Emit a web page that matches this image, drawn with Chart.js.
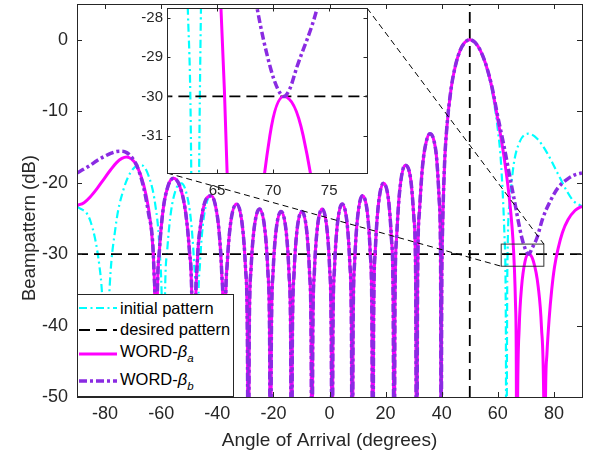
<!DOCTYPE html>
<html><head><meta charset="utf-8">
<script src="https://cdn.jsdelivr.net/npm/chart.js@4/dist/chart.umd.min.js"></script>
<style>
html,body{margin:0;padding:0;background:#fff;}
#wrap{position:relative;width:594px;height:460px;font-family:'Liberation Sans',Arial,Helvetica,sans-serif;color:#262626;}
#main{position:absolute;left:0;top:0;}
#inset{position:absolute;left:120px;top:0;}
#ytitle{position:absolute;left:28.6px;top:227.5px;transform:translate(-50%,-50%) rotate(-90deg);white-space:nowrap;font-size:18.5px;line-height:20px;}
#legend{position:absolute;left:77px;top:294px;width:155px;height:101px;border:1px solid #262626;background:#fff;font-size:16.5px;color:#000;}
#legend .row{position:absolute;left:0;height:20px;display:flex;align-items:center;white-space:nowrap;}
#legend svg{margin-left:1px;margin-right:3px;}
#legend .sub{font-size:11.5px;font-style:italic;position:relative;top:5px;line-height:0;}
#legend .shift{position:relative;top:-2px;}
</style></head>
<body><div id="wrap">
<canvas id="main" width="594" height="460"></canvas>
<canvas id="inset" width="260" height="200"></canvas>
<div id="ytitle">Beampattern (dB)</div>
<div id="legend">
 <div class="row" style="top:3px"><svg width="38" height="8"><line x1="0" y1="4" x2="38" y2="4" stroke="#00FFFF" stroke-width="2.2" stroke-dasharray="8 3.5 2 3.5"/></svg><span>initial pattern</span></div>
 <div class="row" style="top:24.5px"><svg width="38" height="8"><line x1="0" y1="4" x2="38" y2="4" stroke="#000" stroke-width="1.8" stroke-dasharray="11 6"/></svg><span>desired pattern</span></div>
 <div class="row" style="top:48.5px"><svg width="38" height="8"><line x1="0" y1="4" x2="38" y2="4" stroke="#FF00FF" stroke-width="3"/></svg><span class="shift">WORD-<i>β</i><span class="sub">a</span></span></div>
 <div class="row" style="top:76px"><svg width="38" height="8"><line x1="0" y1="4" x2="38" y2="4" stroke="#8A2BE2" stroke-width="3.5" stroke-dasharray="8 3 3 3"/></svg><span class="shift">WORD-<i>β</i><span class="sub">b</span></span></div>
</div>
</div>
<script>
// ---------------- data ----------------
const xTicks = [-80, -60, -40, -20, 0, 20, 40, 60, 80];
const yTicks = [-50, -40, -30, -20, -10, 0];
const insetXTicks = [65, 70, 75];
const insetYTicks = [-31, -30, -29, -28];
const xRange = [-90, 90];
const yRange = [-50, 5];
const insetXRange = [60.54, 78.37];
const insetYRange = [-31.95, -27.75];
const zoomBoxX = [61.2, 76.4];
const zoomBoxY = [-31.7, -28.6];

const desiredSpan = [-90, 90];
const desiredLevel = [-30, -30];
const steerAngle = [50, 50];
const steerSpan = [-50, 5];

// part shared by all three patterns (-41 deg .. main-lobe peak)
const commonAngles = [-40.74,-39.34,-38.42,-37.79,-37.51,
 -37.15,-36.44,-35.29,-33.12,-31.01,-29.93,-29.27,-28.94,
 -28.62,-27.97,-26.92,-24.93,-22.97,-21.96,-21.34,-21.04,
 -20.73,-20.12,-19.13,-17.25,-15.38,-14.42,-13.83,-13.53,
 -13.24,-12.65,-11.70,-9.87,-8.06,-7.12,-6.54,-6.26,
 -5.97,-5.39,-4.46,-2.66,-0.87,0.06,0.63,0.92,
 1.21,1.78,2.71,4.50,6.30,7.24,7.82,8.11,
 8.40,8.98,9.92,11.74,13.58,14.54,15.13,15.43,
 15.73,16.32,17.29,19.18,21.09,22.09,22.71,23.02,
 23.33,23.96,24.98,26.97,29.00,30.07,30.73,31.07,
 31.40,32.08,33.18,34.47,35.79,37.13,38.21,39.13,39.59,39.87,
 39.94,40.24,41.0,41.76,43.32,44.92,46.55,48.25,50.0];
const commonDb = [-23.05,-26.9,-32.6,-43.0,-70,
 -40.5,-31.3,-25.8,-23.0,-26.2,-32.0,-41.4,-70,
 -41.5,-32.1,-26.6,-23.7,-26.8,-32.5,-41.9,-70,
 -42.0,-32.6,-27.0,-24.04,-27.1,-32.8,-42.1,-70,
 -42.1,-32.8,-27.1,-24.04,-27.0,-32.6,-42.0,-70,
 -41.9,-32.5,-26.8,-23.7,-26.6,-32.1,-41.5,-70,
 -41.4,-32.0,-26.2,-23.0,-25.8,-31.3,-40.5,-70,
 -40.5,-31.0,-25.2,-21.85,-24.5,-29.95,-39.2,-70,
 -39.0,-29.5,-23.6,-20.1,-22.6,-27.9,-37.1,-70,
 -36.9,-27.4,-21.3,-17.55,-19.7,-24.9,-33.9,-70,
 -33.6,-23.9,-17.6,-14.3,-13.16,-13.97,-16.7,-22.6,-30.6,-70,
 -41.8,-27.6,-17.47,-12.59,-6.91,-3.57,-1.51,-0.37,0];

// initial pattern
const initLeftAngles = [-90,-85.2,-82.0,-81.0,-80.15,-79.73,
 -79.33,-78.58,-76.28,-73.53,-70.09,-67.14,-64.52,-62.12,-60.63,-59.62,-59.34,-59.20,
 -58.78,-57.83,-56.51,-54.61,-52.79,-51.05,-49.38,-48.29,-47.54,-47.22,
 -46.90,-46.17,-45.15,-43.65,-42.18];
const initLeftDb = [-23.3,-25.4,-31.7,-36.1,-45.7,-70,
 -45.8,-36.3,-26.3,-21.1,-18.1,-17.55,-19.0,-23.05,-28.9,-39.4,-49.1,-70,
 -39.5,-29.4,-24.1,-20.8,-20.1,-21.4,-25.3,-31.1,-41.5,-70,
 -41.6,-31.4,-26.0,-22.6,-21.85];
const initRightAngles = [51.83,53.71,55.69,57.79,60.0,61.17,62.38,62.88,63.0,
 63.38,64.29,65.64,67.82,70.93,73.95,77.44,81.12,84.9,86.9,90];
const initRightDb = [-0.37,-1.51,-3.57,-6.91,-12.59,-17.47,-27.6,-41.8,-70,
 -32.6,-22.6,-17.5,-14.26,-13.15,-13.82,-15.76,-18.54,-21.39,-22.55,-23.3];

// WORD-beta_a
const wordALeftAngles = [-90,-87.5,-85.3,-82.8,-80.6,-78.0,-75.9,-74.0,-72.3,-70.5,-68.7,-66.3,-64.5,-63.3,-62.6,-62.2,-61.9,
 -61.52,-60.64,-59.38,-57.49,-55.6,-53.47,-51.34,-49.92,-48.93,-48.5,
 -47.9,-47.1,-45.9,-44.1,-42.18];
const wordALeftDb = [-23.2,-22.8,-22.0,-20.8,-19.6,-18.2,-17.2,-16.6,-16.4,-16.7,-17.6,-20.2,-23.6,-27.5,-32,-40,-70,
 -39.9,-29.6,-24.0,-20.4,-19.4,-20.4,-24.0,-29.6,-39.9,-70,
 -41,-31,-25.8,-22.4,-21.85];
const wordARightAngles = [51.83,53.71,55.69,57.79,60.0,61.5,63.0,64.3,65.35,65.9,66.3,66.55,66.8,
 67.05,67.63,68.46,69.71,70.95,72.68,74.40,75.55,76.36,76.7,
 77.0,77.5,78.3,79.2,80.2,81.5,83.0,85.0,87.5,90];
const wordARightDb = [-0.36,-1.45,-3.4,-6.5,-11.2,-14.6,-18.6,-22.9,-27.75,-31.95,-37.0,-43,-70,
 -50.5,-40.2,-34.6,-31.0,-30.0,-31.0,-34.6,-40.2,-50.5,-70,
 -50,-44,-39,-35,-31.8,-29.2,-27.0,-25.2,-23.9,-23.3];

// WORD-beta_b
const wordBLeftAngles = [-90,-87.5,-85.4,-82.8,-80.6,-78.0,-76.0,-74.0,-72.3,-71.1,-68.7,-66.3,-64.5,-63.0,-62.5,-62.1,-61.9,
 -61.52,-60.64,-59.38,-57.49,-55.6,-53.47,-51.34,-49.92,-48.93,-48.5,
 -47.9,-47.1,-45.9,-44.1,-42.18];
const wordBLeftDb = [-18.65,-18.1,-17.6,-16.9,-16.4,-15.9,-15.65,-15.6,-15.8,-16.2,-17.6,-20.6,-24.3,-28.5,-33,-41,-70,
 -39.9,-29.6,-24.0,-20.4,-19.4,-20.4,-24.0,-29.6,-39.9,-70,
 -41,-31,-25.8,-22.4,-21.85];
const wordBRightAngles = [51.83,53.71,55.69,57.79,60.0,62.0,64.0,66.0,67.4,68.57,69.76,70.4,70.95,71.5,72.1,73.93,76.0,78.8,81.5,84.8,87.5,90];
const wordBRightDb = [-0.36,-1.45,-3.4,-6.4,-10.8,-14.5,-18.6,-22.7,-25.6,-27.75,-29.27,-29.8,-30.0,-29.8,-29.27,-27.75,-25.0,-22.5,-20.7,-19.5,-18.9,-18.65];

const seriesLabels = ['initial pattern', 'desired pattern', 'WORD-βa', 'WORD-βb'];

// ---------------- build ----------------
const FONT = "'Liberation Sans', Arial, Helvetica, sans-serif";
const AXIS = '#262626';
function xy(xs, ys) { return xs.map((x, i) => ({x: x, y: ys[i]})); }
const initXY = xy([...initLeftAngles, ...commonAngles, ...initRightAngles], [...initLeftDb, ...commonDb, ...initRightDb]);
const wordAXY = xy([...wordALeftAngles, ...commonAngles, ...wordARightAngles], [...wordALeftDb, ...commonDb, ...wordARightDb]);
const wordBXY = xy([...wordBLeftAngles, ...commonAngles, ...wordBRightAngles], [...wordBLeftDb, ...commonDb, ...wordBRightDb]);

function makeDatasets(withSteer) {
  const common = {pointRadius: 0, fill: false, cubicInterpolationMode: 'monotone', borderCapStyle: 'butt', borderJoinStyle: 'round'};
  const ds = [
    Object.assign({}, common, {label: seriesLabels[0], data: initXY, borderColor: '#00FFFF', borderWidth: 2.2, borderDash: [8, 3.5, 2, 3.5], order: 4}),
    Object.assign({}, common, {label: seriesLabels[1], data: xy(desiredSpan, desiredLevel), borderColor: '#000000', borderWidth: 1.8, borderDash: [11, 6], order: 3, cubicInterpolationMode: 'default', tension: 0}),
    Object.assign({}, common, {label: seriesLabels[2], data: wordAXY, borderColor: '#FF00FF', borderWidth: 3, order: 1}),
    Object.assign({}, common, {label: seriesLabels[3], data: wordBXY, borderColor: '#8A2BE2', borderWidth: 3.5, borderDash: [8, 3, 3, 3], order: 0})
  ];
  if (withSteer) {
    ds.push(Object.assign({}, common, {label: seriesLabels[1], data: xy(steerAngle, steerSpan), borderColor: '#000000', borderWidth: 1.8, borderDash: [11, 6], order: 2, cubicInterpolationMode: 'default', tension: 0}));
  }
  return ds;
}

const framePlugin = {
  id: 'frame',
  beforeDatasetsDraw(chart, args, opts) {
    if (opts.fill) {
      const a = chart.chartArea, ctx = chart.ctx;
      ctx.save(); ctx.fillStyle = '#ffffff';
      ctx.fillRect(a.left, a.top, a.right - a.left, a.bottom - a.top);
      ctx.restore();
    }
  },
  afterDatasetsDraw(chart, args, opts) {
    const {ctx, chartArea: a, scales: {x, y}} = chart;
    const L = opts.tickLen || 5;
    ctx.save();
    ctx.strokeStyle = AXIS; ctx.lineWidth = 1; ctx.setLineDash([]);
    ctx.beginPath();
    x.ticks.forEach(t => {
      const p = Math.round(x.getPixelForValue(t.value)) + 0.5;
      ctx.moveTo(p, a.bottom); ctx.lineTo(p, a.bottom - L);
      ctx.moveTo(p, a.top); ctx.lineTo(p, a.top + L);
    });
    y.ticks.forEach(t => {
      const p = Math.round(y.getPixelForValue(t.value)) + 0.5;
      ctx.moveTo(a.left, p); ctx.lineTo(a.left + L, p);
      ctx.moveTo(a.right, p); ctx.lineTo(a.right - L, p);
    });
    ctx.stroke();
    ctx.strokeRect(Math.round(a.left) + 0.5, Math.round(a.top) + 0.5, Math.round(a.right - a.left), Math.round(a.bottom - a.top));
    ctx.restore();
  }
};

function axisOpts(range, ticksArr, size, pad, sizeFn, title) {
  const o = {
    type: 'linear', min: range[0], max: range[1],
    afterBuildTicks: s => { s.ticks = ticksArr.map(v => ({value: v})); },
    afterFit: s => { sizeFn(s); s.paddingTop = 0; s.paddingBottom = 0; s.paddingLeft = 0; s.paddingRight = 0; },
    grid: {display: false, drawTicks: false},
    border: {display: false},
    ticks: {padding: pad, color: AXIS, font: {family: FONT, size: size}, maxRotation: 0, autoSkip: false}
  };
  if (title) o.title = title;
  return o;
}

const insetChart = new Chart(document.getElementById('inset'), {
  type: 'line',
  data: {datasets: makeDatasets(false)},
  options: {
    responsive: false, animation: false, events: [],
    layout: {padding: {top: 8, right: 13, bottom: 0, left: 0}},
    plugins: {legend: {display: false}, tooltip: {enabled: false}, frame: {tickLen: 3.5, fill: true}},
    scales: {
      x: axisOpts(insetXRange, insetXTicks, 15, 9, s => { s.height = 27; }),
      y: axisOpts(insetYRange, insetYTicks, 15, 4, s => { s.width = 47; })
    }
  },
  plugins: [framePlugin]
});

const zoomPlugin = {
  id: 'zoomLinks',
  afterDatasetsDraw(chart) {
    const {ctx, scales: {x, y}} = chart;
    const rx0 = x.getPixelForValue(zoomBoxX[0]), rx1 = x.getPixelForValue(zoomBoxX[1]);
    const ryTop = y.getPixelForValue(zoomBoxY[1]), ryBot = y.getPixelForValue(zoomBoxY[0]);
    const ic = document.getElementById('inset');
    const ia = insetChart.chartArea;
    const ox = ic.offsetLeft, oy = ic.offsetTop;
    ctx.save();
    ctx.strokeStyle = '#333333'; ctx.lineWidth = 1; ctx.setLineDash([]);
    ctx.strokeRect(rx0, ryTop, rx1 - rx0, ryBot - ryTop);
    ctx.strokeStyle = '#000000'; ctx.setLineDash([6, 4]);
    ctx.beginPath();
    ctx.moveTo(ox + ia.right, oy + ia.top); ctx.lineTo(rx1, ryTop);
    ctx.moveTo(ox + ia.left, oy + ia.bottom); ctx.lineTo(rx0, ryBot);
    ctx.stroke();
    ctx.restore();
  }
};

const mainChart = new Chart(document.getElementById('main'), {
  type: 'line',
  data: {datasets: makeDatasets(true)},
  options: {
    responsive: false, animation: false, events: [],
    layout: {padding: {top: 4, right: 12, bottom: 0, left: 0}},
    plugins: {legend: {display: false}, tooltip: {enabled: false}, frame: {tickLen: 5}},
    scales: {
      x: axisOpts(xRange, xTicks, 18, 6, s => { s.height = 63; },
        {display: true, text: 'Angle of Arrival (degrees)', color: AXIS, font: {family: FONT, size: 19}, padding: {top: 0, bottom: 8}}),
      y: axisOpts(yRange, yTicks, 18, 9, s => { s.width = 77; })
    }
  },
  plugins: [framePlugin, zoomPlugin]
});
</script>
</body></html>
